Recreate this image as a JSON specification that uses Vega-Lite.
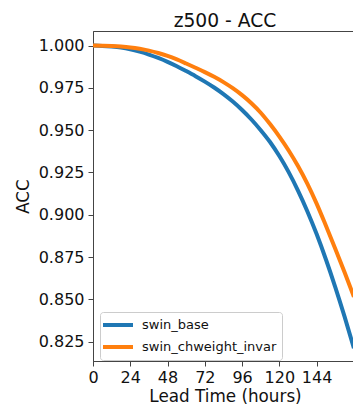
{
  "$schema": "https://vega.github.io/schema/vega-lite/v6.json",
  "autosize": {"type": "none"},
  "padding": {"left": 93, "top": 31, "right": 0, "bottom": 45},
  "width": 264,
  "height": 330,
  "background": "white",
  "config": {
    "font": "DejaVu Sans",
    "view": {"stroke": "#444444", "strokeWidth": 1},
    "axis": {
      "grid": false,
      "domainColor": "#444444",
      "tickColor": "#444444",
      "tickSize": 5,
      "labelColor": "#111111",
      "titleColor": "#111111",
      "labelFont": "DejaVu Sans",
      "titleFont": "DejaVu Sans",
      "labelFontSize": 16,
      "titleFontSize": 16.8,
      "titleFontWeight": "normal"
    },
    "title": {"font": "DejaVu Sans", "fontSize": 18.7, "fontWeight": "normal", "color": "#111111"}
  },
  "title": {"text": "z500 - ACC", "anchor": "middle", "offset": 0},
  "data": {
    "values": [
      {"h": 0, "acc": 1.0000, "model": "swin_base"},
      {"h": 6, "acc": 0.9998, "model": "swin_base"},
      {"h": 12, "acc": 0.9994, "model": "swin_base"},
      {"h": 18, "acc": 0.9988, "model": "swin_base"},
      {"h": 24, "acc": 0.9978, "model": "swin_base"},
      {"h": 30, "acc": 0.9964, "model": "swin_base"},
      {"h": 36, "acc": 0.9947, "model": "swin_base"},
      {"h": 42, "acc": 0.9927, "model": "swin_base"},
      {"h": 48, "acc": 0.9904, "model": "swin_base"},
      {"h": 54, "acc": 0.9878, "model": "swin_base"},
      {"h": 60, "acc": 0.9849, "model": "swin_base"},
      {"h": 66, "acc": 0.9819, "model": "swin_base"},
      {"h": 72, "acc": 0.9787, "model": "swin_base"},
      {"h": 78, "acc": 0.9752, "model": "swin_base"},
      {"h": 84, "acc": 0.9713, "model": "swin_base"},
      {"h": 90, "acc": 0.9669, "model": "swin_base"},
      {"h": 96, "acc": 0.9619, "model": "swin_base"},
      {"h": 102, "acc": 0.9563, "model": "swin_base"},
      {"h": 108, "acc": 0.9500, "model": "swin_base"},
      {"h": 114, "acc": 0.9430, "model": "swin_base"},
      {"h": 120, "acc": 0.9347, "model": "swin_base"},
      {"h": 126, "acc": 0.9252, "model": "swin_base"},
      {"h": 132, "acc": 0.9143, "model": "swin_base"},
      {"h": 138, "acc": 0.9021, "model": "swin_base"},
      {"h": 144, "acc": 0.8886, "model": "swin_base"},
      {"h": 150, "acc": 0.8736, "model": "swin_base"},
      {"h": 156, "acc": 0.8573, "model": "swin_base"},
      {"h": 162, "acc": 0.8398, "model": "swin_base"},
      {"h": 168, "acc": 0.8212, "model": "swin_base"},
      {"h": 0, "acc": 1.0000, "model": "swin_chweight_invar"},
      {"h": 6, "acc": 0.9999, "model": "swin_chweight_invar"},
      {"h": 12, "acc": 0.9997, "model": "swin_chweight_invar"},
      {"h": 18, "acc": 0.9994, "model": "swin_chweight_invar"},
      {"h": 24, "acc": 0.9989, "model": "swin_chweight_invar"},
      {"h": 30, "acc": 0.9981, "model": "swin_chweight_invar"},
      {"h": 36, "acc": 0.9970, "model": "swin_chweight_invar"},
      {"h": 42, "acc": 0.9956, "model": "swin_chweight_invar"},
      {"h": 48, "acc": 0.9939, "model": "swin_chweight_invar"},
      {"h": 54, "acc": 0.9918, "model": "swin_chweight_invar"},
      {"h": 60, "acc": 0.9894, "model": "swin_chweight_invar"},
      {"h": 66, "acc": 0.9869, "model": "swin_chweight_invar"},
      {"h": 72, "acc": 0.9843, "model": "swin_chweight_invar"},
      {"h": 78, "acc": 0.9815, "model": "swin_chweight_invar"},
      {"h": 84, "acc": 0.9784, "model": "swin_chweight_invar"},
      {"h": 90, "acc": 0.9748, "model": "swin_chweight_invar"},
      {"h": 96, "acc": 0.9707, "model": "swin_chweight_invar"},
      {"h": 102, "acc": 0.9659, "model": "swin_chweight_invar"},
      {"h": 108, "acc": 0.9603, "model": "swin_chweight_invar"},
      {"h": 114, "acc": 0.9536, "model": "swin_chweight_invar"},
      {"h": 120, "acc": 0.9462, "model": "swin_chweight_invar"},
      {"h": 126, "acc": 0.9380, "model": "swin_chweight_invar"},
      {"h": 132, "acc": 0.9288, "model": "swin_chweight_invar"},
      {"h": 138, "acc": 0.9184, "model": "swin_chweight_invar"},
      {"h": 144, "acc": 0.9066, "model": "swin_chweight_invar"},
      {"h": 150, "acc": 0.8935, "model": "swin_chweight_invar"},
      {"h": 156, "acc": 0.8800, "model": "swin_chweight_invar"},
      {"h": 162, "acc": 0.8660, "model": "swin_chweight_invar"},
      {"h": 168, "acc": 0.8515, "model": "swin_chweight_invar"}
    ]
  },
  "mark": {"type": "line", "strokeWidth": 4, "clip": true, "interpolate": "monotone"},
  "encoding": {
    "x": {
      "field": "h",
      "type": "quantitative",
      "scale": {"domain": [0, 170], "nice": false, "zero": false},
      "axis": {"title": "Lead Time (hours)", "values": [0, 24, 48, 72, 96, 120, 144], "labelPadding": 3, "titlePadding": 3, "labelFlush": false}
    },
    "y": {
      "field": "acc",
      "type": "quantitative",
      "scale": {"domain": [0.8136, 1.0086], "nice": false, "zero": false},
      "axis": {"title": "ACC", "values": [0.825, 0.85, 0.875, 0.9, 0.925, 0.95, 0.975, 1.0], "format": ".3f", "labelPadding": 4, "titlePadding": 6}
    },
    "color": {
      "field": "model",
      "type": "nominal",
      "scale": {"domain": ["swin_base", "swin_chweight_invar"], "range": ["#1f77b4", "#ff7f0e"]},
      "legend": {
        "title": null,
        "orient": "none",
        "legendX": 7,
        "legendY": 281,
        "fillColor": "white",
        "strokeColor": "#cccccc",
        "cornerRadius": 3,
        "padding": 5,
        "labelFont": "DejaVu Sans",
        "labelFontSize": 13,
        "labelColor": "#111111",
        "labelOffset": 16,
        "symbolType": "M-2.5,0H2.5",
        "symbolStrokeWidth": 4,
        "symbolSize": 144,
        "symbolOffset": 5,
        "rowPadding": 6
      }
    }
  }
}
